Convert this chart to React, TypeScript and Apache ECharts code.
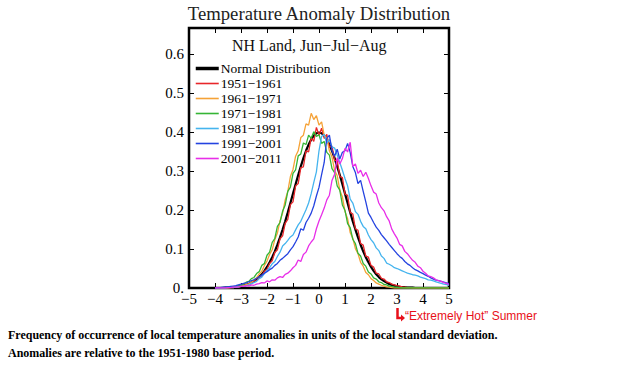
import React, { useEffect, useRef } from "react";
import * as echarts from "echarts";

// x grid of the binned anomaly histograms (units of local standard deviation)
const X_START = -4;
const X_STEP = 0.1;
const X_COUNT = 91;
const xValues: number[] = Array.from({ length: X_COUNT }, (_, i) => +(X_START + i * X_STEP).toFixed(1));

const xTicks = [-5, -4, -3, -2, -1, 0, 1, 2, 3, 4, 5];
const yTicks = [0, 0.1, 0.2, 0.3, 0.4, 0.5, 0.6];

const seriesNames = [
  "Normal Distribution",
  "1951\u22121961",
  "1961\u22121971",
  "1971\u22121981",
  "1981\u22121991",
  "1991\u22122001",
  "2001\u22122011",
];

const normalDist = [
  0, 0, 0, 0, 0.001, 0.001, 0.001, 0.002, 0.002, 0.003,
  0.004, 0.006, 0.008, 0.01, 0.014, 0.018, 0.022, 0.028, 0.035, 0.044,
  0.054, 0.066, 0.079, 0.094, 0.111, 0.13, 0.15, 0.171, 0.194, 0.218,
  0.242, 0.266, 0.29, 0.312, 0.333, 0.352, 0.368, 0.381, 0.391, 0.397,
  0.399, 0.397, 0.391, 0.381, 0.368, 0.352, 0.333, 0.312, 0.29, 0.266,
  0.242, 0.218, 0.194, 0.171, 0.15, 0.13, 0.111, 0.094, 0.079, 0.066,
  0.054, 0.044, 0.035, 0.028, 0.022, 0.018, 0.014, 0.01, 0.008, 0.006,
  0.004, 0.003, 0.002, 0.002, 0.001, 0.001, 0.001, 0, 0, 0,
  0, 0, 0, 0, 0, 0, 0, 0, 0, 0, 0,
];

const d1951 = [
  0, 0, 0, 0, 0, 0, 0.001, 0.001, 0.002, 0.003,
  0.004, 0.006, 0.008, 0.011, 0.012, 0.018, 0.019, 0.027, 0.031, 0.043,
  0.048, 0.063, 0.07, 0.091, 0.098, 0.126, 0.134, 0.166, 0.176, 0.214,
  0.221, 0.262, 0.268, 0.309, 0.311, 0.352, 0.349, 0.386, 0.376, 0.412,
  0.392, 0.41, 0.384, 0.394, 0.361, 0.364, 0.327, 0.328, 0.286, 0.283,
  0.241, 0.238, 0.194, 0.19, 0.152, 0.148, 0.114, 0.11, 0.082, 0.079,
  0.058, 0.054, 0.038, 0.036, 0.025, 0.023, 0.016, 0.014, 0.01, 0.008,
  0.006, 0.005, 0.003, 0.002, 0.001, 0.001, 0, 0, 0, 0,
  0, 0, 0, 0, 0, 0, 0, 0, 0, 0, 0,
];

const d1961 = [
  0, 0, 0, 0, 0, 0, 0.001, 0.001, 0.002, 0.003,
  0.005, 0.006, 0.009, 0.01, 0.015, 0.021, 0.026, 0.036, 0.043, 0.058,
  0.069, 0.086, 0.098, 0.124, 0.141, 0.172, 0.192, 0.226, 0.248, 0.286,
  0.304, 0.338, 0.352, 0.386, 0.392, 0.421, 0.418, 0.448, 0.432, 0.442,
  0.418, 0.426, 0.392, 0.384, 0.352, 0.336, 0.302, 0.288, 0.251, 0.234,
  0.196, 0.178, 0.142, 0.128, 0.101, 0.088, 0.066, 0.056, 0.04, 0.034,
  0.024, 0.019, 0.013, 0.01, 0.007, 0.005, 0.003, 0.002, 0.001, 0,
  0, 0, 0, 0, 0, 0, 0, 0, 0, 0,
  0, 0, 0, 0, 0, 0, 0, 0, 0, 0, 0,
];

const d1971 = [
  0, 0, 0, 0, 0.001, 0.002, 0.002, 0.003, 0.004, 0.006,
  0.008, 0.01, 0.015, 0.017, 0.024, 0.027, 0.037, 0.042, 0.058, 0.063,
  0.084, 0.092, 0.117, 0.127, 0.158, 0.168, 0.197, 0.213, 0.248, 0.259,
  0.294, 0.303, 0.339, 0.344, 0.372, 0.368, 0.392, 0.384, 0.401, 0.389,
  0.393, 0.371, 0.376, 0.348, 0.341, 0.306, 0.296, 0.262, 0.251, 0.213,
  0.199, 0.165, 0.155, 0.125, 0.114, 0.089, 0.082, 0.063, 0.056, 0.041,
  0.036, 0.026, 0.023, 0.016, 0.014, 0.009, 0.008, 0.005, 0.004, 0.002,
  0.002, 0.001, 0, 0, 0, 0, 0, 0, 0, 0,
  0, 0, 0, 0, 0, 0, 0, 0, 0, 0, 0,
];

const d1981 = [
  0, 0, 0, 0, 0, 0.001, 0.001, 0.001, 0.002, 0.003,
  0.004, 0.004, 0.006, 0.008, 0.011, 0.014, 0.017, 0.024, 0.028, 0.037,
  0.045, 0.052, 0.062, 0.068, 0.081, 0.092, 0.108, 0.114, 0.122, 0.131,
  0.136, 0.149, 0.162, 0.171, 0.186, 0.201, 0.218, 0.242, 0.271, 0.298,
  0.352, 0.389, 0.394, 0.372, 0.381, 0.362, 0.359, 0.341, 0.322, 0.302,
  0.281, 0.262, 0.228, 0.218, 0.196, 0.189, 0.171, 0.158, 0.152, 0.136,
  0.124, 0.116, 0.103, 0.096, 0.082, 0.076, 0.064, 0.061, 0.057, 0.052,
  0.05, 0.047, 0.044, 0.041, 0.038, 0.036, 0.034, 0.033, 0.031, 0.028,
  0.026, 0.024, 0.021, 0.02, 0.018, 0.016, 0.014, 0.012, 0.01, 0.009, 0.007,
];

const d1991 = [
  0, 0.001, 0.001, 0.002, 0.002, 0.003, 0.004, 0.005, 0.006, 0.008,
  0.01, 0.012, 0.013, 0.016, 0.019, 0.021, 0.025, 0.029, 0.033, 0.038,
  0.042, 0.047, 0.051, 0.058, 0.063, 0.071, 0.076, 0.082, 0.088, 0.098,
  0.106, 0.118, 0.131, 0.152, 0.148, 0.168, 0.179, 0.192, 0.211, 0.236,
  0.258, 0.291, 0.322, 0.384, 0.392, 0.352, 0.338, 0.356, 0.331, 0.348,
  0.352, 0.371, 0.348, 0.312, 0.296, 0.268, 0.276, 0.248, 0.221, 0.192,
  0.181, 0.168, 0.156, 0.148, 0.137, 0.129, 0.121, 0.112, 0.104, 0.096,
  0.088, 0.081, 0.076, 0.068, 0.062, 0.058, 0.052, 0.047, 0.044, 0.04,
  0.037, 0.033, 0.03, 0.026, 0.023, 0.02, 0.019, 0.017, 0.015, 0.013, 0.011,
];

const d2001 = [
  0, 0, 0, 0, 0, 0.001, 0.001, 0.002, 0.002, 0.003,
  0.004, 0.004, 0.006, 0.005, 0.008, 0.007, 0.01, 0.011, 0.014, 0.013,
  0.018, 0.016, 0.021, 0.02, 0.026, 0.029, 0.027, 0.035, 0.038, 0.044,
  0.052, 0.058, 0.072, 0.068, 0.086, 0.092, 0.108, 0.118, 0.126, 0.152,
  0.172, 0.188, 0.205, 0.226, 0.238, 0.276, 0.292, 0.334, 0.318, 0.332,
  0.358, 0.349, 0.374, 0.312, 0.318, 0.294, 0.302, 0.286, 0.297, 0.281,
  0.262, 0.246, 0.241, 0.218, 0.206, 0.198, 0.183, 0.172, 0.151, 0.139,
  0.128, 0.112, 0.108, 0.094, 0.088, 0.079, 0.071, 0.066, 0.056, 0.052,
  0.043, 0.038, 0.031, 0.029, 0.026, 0.021, 0.019, 0.017, 0.014, 0.012, 0.009,
];

const seriesValues = [normalDist, d1951, d1961, d1971, d1981, d1991, d2001];
const seriesColors = ["#000000", "#e8262a", "#f5a237", "#35b535", "#45b4ee", "#2443e0", "#e82ee8"];
const seriesWidths = [2.2, 1.3, 1.3, 1.3, 1.3, 1.3, 1.3];
const legendWidths = [3.5, 1.6, 1.6, 1.6, 1.6, 1.6, 1.6];

const legendHeader = "NH Land, Jun\u2212Jul\u2212Aug";
const chartTitle = "Temperature Anomaly Distribution";
const annotationText = "\u201cExtremely Hot\u201d Summer";
const captionLines = [
  "Frequency of occurrence of local temperature anomalies in units of the local standard deviation.",
  "Anomalies are relative to the 1951-1980 base period.",
];

const SERIF = "'Liberation Serif', 'DejaVu Serif', serif";
const SANS = "'Liberation Sans', Arial, sans-serif";

export default function App() {
  const ref = useRef<HTMLDivElement>(null);
  useEffect(() => {
    if (!ref.current) return;
    const chart = echarts.init(ref.current, undefined, { renderer: "svg" });
    const tickFmt = (v: number) => {
      if (Math.abs(v) < 1e-9) return "0.";
      const hit = yTicks.find((t) => Math.abs(t - v) < 1e-6);
      return hit !== undefined ? hit.toFixed(1) : "";
    };
    const xFmt = (v: number) => {
      const hit = xTicks.find((t) => Math.abs(t - v) < 1e-6);
      if (hit === undefined) return "";
      return hit < 0 ? "\u2212" + Math.abs(hit) : String(hit);
    };
    const tick = { show: true, inside: true, length: 5, lineStyle: { color: "#000", width: 1 } };
    const noLine = { show: false, onZero: false };
    const option: any = {
      animation: false,
      backgroundColor: "#ffffff",
      grid: {
        left: 189,
        right: 173,
        top: 28,
        bottom: 78,
        show: true,
        borderColor: "#000",
        borderWidth: 2.5,
        backgroundColor: "transparent",
      },
      xAxis: [
        {
          type: "value",
          min: -5,
          max: 5,
          interval: 1,
          axisLine: noLine,
          splitLine: { show: false },
          axisTick: tick,
          axisLabel: { formatter: xFmt, color: "#000", fontFamily: SERIF, fontSize: 15, margin: 3 },
        },
        {
          type: "value",
          position: "top",
          min: -5,
          max: 5,
          interval: 1,
          axisLine: noLine,
          splitLine: { show: false },
          axisTick: tick,
          axisLabel: { show: false },
        },
      ],
      yAxis: [
        {
          type: "value",
          min: 0,
          max: 0.667,
          interval: 0.1,
          axisLine: noLine,
          splitLine: { show: false },
          axisTick: tick,
          axisLabel: { formatter: tickFmt, color: "#000", fontFamily: SERIF, fontSize: 15, margin: 5, showMaxLabel: false },
        },
        {
          type: "value",
          position: "right",
          min: 0,
          max: 0.667,
          interval: 0.1,
          axisLine: noLine,
          splitLine: { show: false },
          axisTick: tick,
          axisLabel: { show: false },
        },
      ],
      legend: {
        orient: "vertical",
        left: 194,
        top: 61,
        itemWidth: 23,
        itemHeight: 15,
        itemGap: 0,
        padding: 0,
        itemStyle: { opacity: 0 },
        data: seriesNames.map((name, i) => ({
          name,
          lineStyle: { width: legendWidths[i], color: seriesColors[i] },
        })),
        textStyle: { fontFamily: SERIF, fontSize: 13.5, color: "#000", lineHeight: 15, padding: [0, 0, 0, -3] },
      },
      series: seriesNames.map((name, si) => ({
        name,
        type: "line",
        xAxisIndex: 0,
        yAxisIndex: 0,
        symbol: "none",
        clip: true,
        z: si === 0 ? 1 : 2 + si,
        data: xValues.map((x, i) => [x, seriesValues[si][i]]),
        lineStyle: { color: seriesColors[si], width: seriesWidths[si] },
        itemStyle: { color: seriesColors[si] },
      })),
      graphic: [
        {
          type: "text",
          x: 319,
          y: 13,
          style: { text: chartTitle, fill: "#222", font: `18.7px ${SERIF}`, textAlign: "center", textVerticalAlign: "middle" },
        },
        {
          type: "text",
          x: 232,
          y: 45,
          style: { text: legendHeader, fill: "#111", font: `16px ${SERIF}`, textAlign: "left", textVerticalAlign: "middle" },
        },
        {
          type: "polyline",
          shape: { points: [[397.5, 308], [397.5, 318], [402, 318]] },
          style: { stroke: "#e8101a", lineWidth: 2.5, fill: "none" },
        },
        {
          type: "polygon",
          shape: { points: [[401, 314.5], [405, 318], [401, 321.5]] },
          style: { fill: "#e8101a" },
        },
        {
          type: "text",
          x: 405,
          y: 316,
          style: { text: annotationText, fill: "#e8101a", font: `12px ${SANS}`, textAlign: "left", textVerticalAlign: "middle" },
        },
        ...captionLines.map((t, i) => ({
          type: "text",
          x: 8,
          y: 335 + i * 18,
          scaleX: 0.888,
          style: { text: t, fill: "#000", font: `bold 13.5px ${SERIF}`, textAlign: "left", textVerticalAlign: "middle" },
        })),
      ],
    };
    chart.setOption(option);
    return () => chart.dispose();
  }, []);
  return (
    <div
      ref={ref}
      style={{ position: "fixed", left: 0, top: 0, width: 622, height: 366, background: "#fff" }}
    />
  );
}
